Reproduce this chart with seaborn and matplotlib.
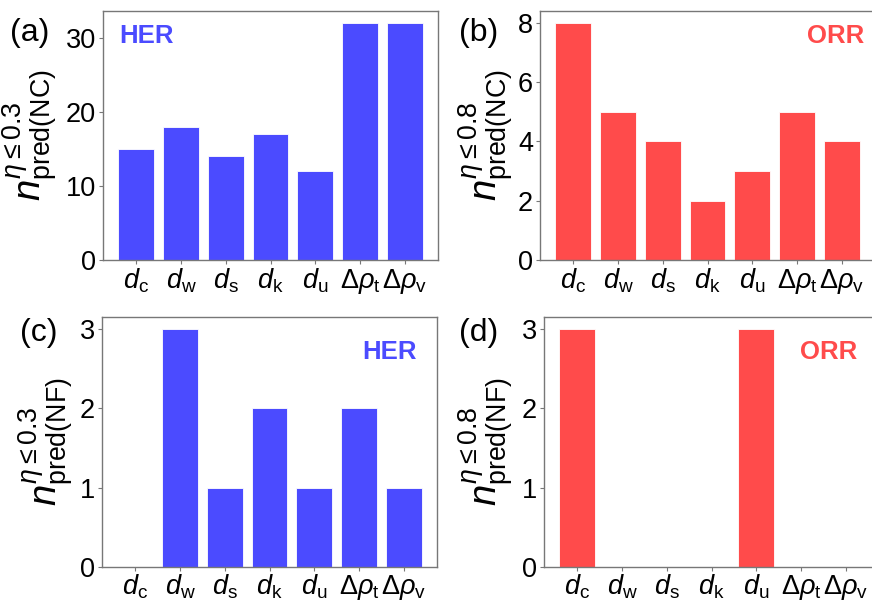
import numpy as np
import pandas as pd
import matplotlib
matplotlib.use("Agg")
import matplotlib.pyplot as plt
import seaborn as sns

# descriptors on the x axis
descriptors = [r"$d_{\mathrm{c}}$", r"$d_{\mathrm{w}}$", r"$d_{\mathrm{s}}$", r"$d_{\mathrm{k}}$",
               r"$d_{\mathrm{u}}$", r"$\Delta\rho_{\mathrm{t}}$", r"$\Delta\rho_{\mathrm{v}}$"]

# counts
her_nc = [15, 18, 14, 17, 12, 32, 32]
orr_nc = [8, 5, 4, 2, 3, 5, 4]
her_nf = [0, 3, 1, 2, 1, 2, 1]
orr_nf = [3, 0, 0, 0, 3, 0, 0]

her_color = "#4B4BFF"
orr_color = "#FF4B4B"

sns.set_style("white")
plt.rcParams["font.family"] = ["Liberation Sans", "DejaVu Sans"]
plt.rcParams["mathtext.fontset"] = "custom"
plt.rcParams["mathtext.rm"] = "Liberation Sans"
plt.rcParams["mathtext.it"] = "Liberation Sans:italic"
plt.rcParams["mathtext.bf"] = "Liberation Sans:bold"
plt.rcParams["text.color"] = "black"
plt.rcParams["axes.labelcolor"] = "black"

fig = plt.figure(figsize=(8.72, 6.02), dpi=100)
W, H = 872.0, 602.0


def add_ax(left, right, top, bottom):
    return fig.add_axes([left / W, 1 - bottom / H, (right - left) / W, (bottom - top) / H])


panels = [
    # (axes box px, values, color, ylabel, label x, yticks, tag, tag pos, name, name pos, align, xpad)
    ((103, 438, 11, 260), her_nc, her_color, r"$n^{\eta\leq0.3}_{\mathrm{pred(NC)}}$", -0.128,
     [0, 10, 20, 30], "(a)", (10, 33), "HER", (0.048, 0.90), "left", 2),
    ((540, 875, 11, 260), orr_nc, orr_color, r"$n^{\eta\leq0.8}_{\mathrm{pred(NC)}}$", -0.072,
     [0, 2, 4, 6, 8], "(b)", (459, 33), "ORR", (0.967, 0.90), "right", 2),
    ((102, 437, 317, 567), her_nf, her_color, r"$n^{\eta\leq0.3}_{\mathrm{pred(NF)}}$", -0.078,
     [0, 1, 2, 3], "(c)", (20, 333), "HER", (0.94, 0.86), "right", 1),
    ((544, 879, 317, 567), orr_nf, orr_color, r"$n^{\eta\leq0.8}_{\mathrm{pred(NF)}}$", -0.084,
     [0, 1, 2, 3], "(d)", (459, 333), "ORR", (0.934, 0.86), "right", 1),
]

for box, vals, color, ylab, labx, yticks, tag, tagpos, name, namepos, ha, xpad in panels:
    ax = add_ax(*box)
    df = pd.DataFrame({"desc": descriptors, "n": vals})
    sns.barplot(data=df, x="desc", y="n", order=descriptors, color=color, saturation=1,
                width=0.8, edgecolor="white", linewidth=0.6, ax=ax)
    ax.set_xlim(-0.74, 6.74)
    ax.set_ylim(0, max(vals) * 1.05)
    ax.set_yticks(yticks)
    ax.set_xlabel("")
    ax.set_ylabel(ylab, fontsize=27.5)
    ax.yaxis.set_label_coords(labx, 0.5)
    ax.tick_params(axis="both", labelsize=19.5, length=3, width=0.8, color="#777777",
                   labelcolor="black", direction="out", pad=2, bottom=True, left=True)
    ax.tick_params(axis="x", pad=xpad)
    for sp in ax.spines.values():
        sp.set_color("#777777")
        sp.set_linewidth(1.0)
    ax.text(namepos[0], namepos[1], name, transform=ax.transAxes, ha=ha, va="center",
            fontsize=18.5, fontweight="bold", color=color)
    fig.text(tagpos[0] / W, 1 - tagpos[1] / H, tag, ha="left", va="center", fontsize=23)

fig.savefig("out.png", dpi=100)
